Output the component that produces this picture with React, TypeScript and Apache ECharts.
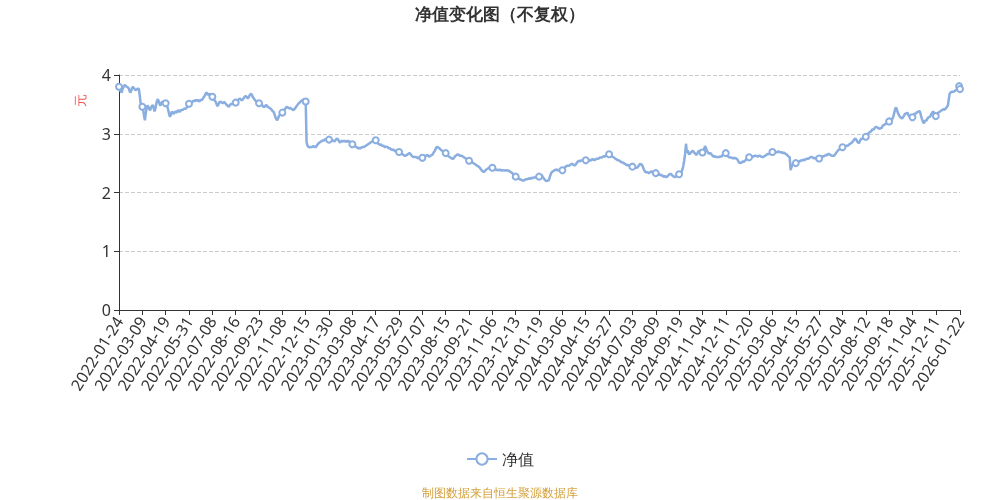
import React, { useEffect, useRef } from "react";
import * as echarts from "echarts";

// Chinese exchange closures (weekdays) in the period shown
const holidays: string[] = [
  "2022-01-31", "2022-02-01", "2022-02-02", "2022-02-03", "2022-02-04", "2022-04-04", "2022-04-05",
  "2022-05-02", "2022-05-03", "2022-05-04", "2022-06-03", "2022-09-12", "2022-10-03", "2022-10-04",
  "2022-10-05", "2022-10-06", "2022-10-07",
  "2023-01-02", "2023-01-23", "2023-01-24", "2023-01-25", "2023-01-26", "2023-01-27", "2023-04-05",
  "2023-05-01", "2023-05-02", "2023-05-03", "2023-06-22", "2023-06-23", "2023-09-29", "2023-10-02",
  "2023-10-03", "2023-10-04", "2023-10-05", "2023-10-06",
  "2024-01-01", "2024-02-09", "2024-02-12", "2024-02-13", "2024-02-14", "2024-02-15", "2024-02-16",
  "2024-04-04", "2024-04-05", "2024-05-01", "2024-05-02", "2024-05-03", "2024-06-10", "2024-09-16",
  "2024-09-17", "2024-10-01", "2024-10-02", "2024-10-03", "2024-10-04", "2024-10-07",
  "2025-01-01", "2025-01-28", "2025-01-29", "2025-01-30", "2025-01-31", "2025-02-03", "2025-02-04",
  "2025-04-04", "2025-05-01", "2025-05-02", "2025-05-05", "2025-06-02", "2025-10-01", "2025-10-02",
  "2025-10-03", "2025-10-06", "2025-10-07", "2025-10-08",
  "2026-01-01", "2026-01-02",
];
const firstDate = "2022-01-24";

// NAV values (元), one per published date
const navA: number[] = [
  3.80, 3.76, 3.72, 3.70, 3.75, 3.79, 3.82, 3.83, 3.81, 3.80, 3.79, 3.78, 3.74, 3.70, 3.73, 3.77, 3.80, 3.78, 3.76, 3.74, 3.75, 3.76, 3.77, 3.76, 3.65, 3.52, 3.50,
  3.46, 3.40, 3.30, 3.23, 3.35, 3.44, 3.48, 3.46, 3.42, 3.40, 3.44, 3.47, 3.49, 3.45, 3.38, 3.42, 3.50, 3.56, 3.59, 3.55, 3.50, 3.48, 3.52, 3.55, 3.54, 3.53, 3.52,
  3.52, 3.50, 3.46, 3.40, 3.33, 3.29, 3.32, 3.38, 3.36, 3.34, 3.35, 3.38, 3.37, 3.36, 3.40, 3.39, 3.37, 3.39, 3.41, 3.40, 3.41, 3.42, 3.43, 3.42, 3.44, 3.46, 3.48,
  3.51, 3.52, 3.54, 3.53, 3.55, 3.56, 3.55, 3.57, 3.57, 3.56, 3.58, 3.56, 3.55, 3.57, 3.58, 3.57, 3.60, 3.62, 3.64, 3.67, 3.70, 3.69, 3.66, 3.67, 3.68, 3.66, 3.64,
  3.63, 3.61, 3.58, 3.56, 3.54, 3.50, 3.47, 3.50, 3.53, 3.55, 3.54, 3.53, 3.52, 3.53, 3.54, 3.52, 3.50, 3.49, 3.47, 3.46, 3.48, 3.50, 3.51, 3.50, 3.52, 3.53, 3.52,
  3.53, 3.55, 3.56, 3.58, 3.59, 3.60, 3.58, 3.57, 3.58, 3.60, 3.62, 3.64, 3.64, 3.62, 3.60, 3.62, 3.65, 3.67, 3.68, 3.65, 3.62, 3.60, 3.58, 3.56, 3.55, 3.54, 3.53,
  3.52, 3.51, 3.50, 3.49, 3.48, 3.46, 3.45, 3.47, 3.49, 3.48, 3.46, 3.45, 3.44, 3.43, 3.42, 3.40, 3.38, 3.37, 3.33, 3.28, 3.25, 3.23, 3.26, 3.30, 3.32, 3.34, 3.35,
  3.36, 3.38, 3.40, 3.42, 3.44, 3.46, 3.45, 3.44, 3.43, 3.44, 3.43, 3.42, 3.41, 3.40, 3.42, 3.44, 3.46, 3.48, 3.50, 3.52, 3.53, 3.55, 3.56, 3.57, 3.58, 3.59, 3.57,
  3.55, 2.86, 2.80, 2.78, 2.77, 2.77, 2.78, 2.77, 2.78, 2.79, 2.78, 2.77, 2.78, 2.80, 2.82, 2.84, 2.85, 2.86, 2.87, 2.88, 2.89, 2.88, 2.90, 2.91, 2.90, 2.91, 2.90,
];
const navB: number[] = [
  2.90, 2.89, 2.90, 2.89, 2.88, 2.89, 2.87, 2.88, 2.90, 2.92, 2.91, 2.89, 2.86, 2.85, 2.87, 2.88, 2.87, 2.88, 2.87, 2.88, 2.86, 2.87, 2.88, 2.87, 2.86, 2.84, 2.83,
  2.82, 2.81, 2.80, 2.79, 2.78, 2.77, 2.76, 2.75, 2.76, 2.75, 2.76, 2.77, 2.78, 2.77, 2.78, 2.79, 2.80, 2.81, 2.82, 2.83, 2.84, 2.85, 2.86, 2.87, 2.88, 2.90, 2.91,
  2.89, 2.86, 2.84, 2.83, 2.82, 2.81, 2.82, 2.80, 2.79, 2.80, 2.78, 2.77, 2.78, 2.78, 2.77, 2.75, 2.76, 2.74, 2.73, 2.73, 2.72, 2.73, 2.71, 2.70, 2.71, 2.70, 2.69,
  2.69, 2.68, 2.67, 2.66, 2.65, 2.64, 2.63, 2.62, 2.63, 2.64, 2.65, 2.66, 2.67, 2.66, 2.64, 2.62, 2.61, 2.60, 2.61, 2.60, 2.61, 2.59, 2.58, 2.60, 2.59, 2.58, 2.59,
  2.59, 2.60, 2.62, 2.63, 2.62, 2.63, 2.64, 2.62, 2.61, 2.62, 2.63, 2.64, 2.65, 2.68, 2.70, 2.73, 2.76, 2.78, 2.77, 2.76, 2.75, 2.73, 2.72, 2.71, 2.70, 2.69, 2.68,
  2.67, 2.66, 2.64, 2.62, 2.61, 2.60, 2.59, 2.58, 2.57, 2.58, 2.60, 2.62, 2.63, 2.64, 2.65, 2.64, 2.63, 2.62, 2.63, 2.62, 2.61, 2.60, 2.59, 2.58, 2.57, 2.56, 2.55,
  2.54, 2.53, 2.52, 2.51, 2.51, 2.50, 2.49, 2.48, 2.47, 2.46, 2.45, 2.44, 2.43, 2.41, 2.39, 2.37, 2.36, 2.35, 2.36, 2.38, 2.39, 2.40, 2.41, 2.42, 2.43, 2.42, 2.43,
  2.42, 2.41, 2.40, 2.39, 2.39, 2.38, 2.39, 2.38, 2.38, 2.39, 2.38, 2.37, 2.38, 2.38, 2.37, 2.38, 2.38, 2.37, 2.38, 2.37, 2.36, 2.35, 2.34, 2.33, 2.31, 2.29, 2.28,
  2.27, 2.26, 2.25, 2.24, 2.23, 2.22, 2.22, 2.21, 2.21, 2.20, 2.21, 2.22, 2.23, 2.22, 2.23, 2.24, 2.23, 2.24, 2.25, 2.24, 2.25, 2.26, 2.25, 2.26, 2.27, 2.26, 2.26,
];
const navC: number[] = [
  2.27, 2.28, 2.29, 2.30, 2.27, 2.25, 2.23, 2.21, 2.20, 2.19, 2.21, 2.20, 2.24, 2.29, 2.33, 2.35, 2.36, 2.37, 2.38, 2.39, 2.38, 2.39, 2.38, 2.37, 2.38, 2.39, 2.38,
  2.38, 2.40, 2.42, 2.43, 2.44, 2.45, 2.46, 2.45, 2.46, 2.47, 2.48, 2.49, 2.48, 2.47, 2.46, 2.47, 2.49, 2.51, 2.53, 2.54, 2.53, 2.54, 2.55, 2.54, 2.55, 2.56, 2.55,
  2.55, 2.54, 2.55, 2.56, 2.55, 2.54, 2.55, 2.56, 2.57, 2.56, 2.55, 2.56, 2.57, 2.58, 2.57, 2.58, 2.59, 2.60, 2.59, 2.60, 2.61, 2.62, 2.61, 2.62, 2.63, 2.64, 2.65,
  2.65, 2.64, 2.63, 2.62, 2.61, 2.60, 2.59, 2.58, 2.57, 2.56, 2.55, 2.55, 2.54, 2.53, 2.52, 2.51, 2.51, 2.50, 2.49, 2.48, 2.47, 2.46, 2.47, 2.46, 2.45, 2.44, 2.43,
  2.44, 2.43, 2.42, 2.43, 2.42, 2.42, 2.43, 2.45, 2.47, 2.49, 2.48, 2.47, 2.44, 2.40, 2.37, 2.35, 2.34, 2.35, 2.34, 2.33, 2.34, 2.35, 2.36, 2.35, 2.34, 2.33, 2.32,
  2.33, 2.32, 2.31, 2.30, 2.31, 2.30, 2.29, 2.30, 2.28, 2.27, 2.28, 2.27, 2.26, 2.27, 2.28, 2.30, 2.31, 2.32, 2.31, 2.29, 2.28, 2.27, 2.26, 2.27, 2.28, 2.29, 2.30,
  2.31, 2.31, 2.30, 2.36, 2.40, 2.46, 2.55, 2.66, 2.83, 2.68, 2.72, 2.66, 2.65, 2.67, 2.69, 2.70, 2.71, 2.69, 2.67, 2.66, 2.64, 2.66, 2.69, 2.71, 2.70, 2.69, 2.68,
  2.68, 2.70, 2.74, 2.79, 2.76, 2.72, 2.69, 2.67, 2.66, 2.67, 2.66, 2.64, 2.62, 2.61, 2.62, 2.61, 2.60, 2.61, 2.60, 2.61, 2.60, 2.62, 2.61, 2.63, 2.65, 2.66, 2.67,
  2.67, 2.65, 2.63, 2.61, 2.60, 2.59, 2.60, 2.59, 2.58, 2.59, 2.58, 2.59, 2.58, 2.57, 2.55, 2.52, 2.50, 2.51, 2.50, 2.52, 2.53, 2.52, 2.54, 2.55, 2.57, 2.58, 2.59,
];
const navD: number[] = [
  2.60, 2.61, 2.62, 2.61, 2.62, 2.61, 2.62, 2.63, 2.62, 2.62, 2.61, 2.62, 2.63, 2.62, 2.61, 2.61, 2.60, 2.61, 2.62, 2.63, 2.64, 2.65, 2.66, 2.65, 2.66, 2.67, 2.68,
  2.69, 2.70, 2.69, 2.70, 2.69, 2.68, 2.69, 2.70, 2.69, 2.68, 2.69, 2.68, 2.67, 2.68, 2.67, 2.66, 2.65, 2.64, 2.62, 2.61, 2.60, 2.38, 2.43, 2.47, 2.49, 2.50, 2.49,
  2.50, 2.51, 2.52, 2.53, 2.52, 2.54, 2.55, 2.54, 2.55, 2.56, 2.55, 2.56, 2.57, 2.58, 2.57, 2.58, 2.59, 2.60, 2.61, 2.60, 2.59, 2.58, 2.59, 2.58, 2.57, 2.58, 2.57,
  2.58, 2.59, 2.60, 2.61, 2.62, 2.61, 2.62, 2.63, 2.64, 2.63, 2.65, 2.66, 2.65, 2.64, 2.63, 2.62, 2.63, 2.62, 2.64, 2.66, 2.68, 2.70, 2.72, 2.73, 2.74, 2.75, 2.76,
  2.77, 2.78, 2.79, 2.78, 2.79, 2.80, 2.79, 2.81, 2.82, 2.83, 2.84, 2.85, 2.87, 2.89, 2.91, 2.92, 2.90, 2.87, 2.85, 2.84, 2.87, 2.90, 2.92, 2.91, 2.93, 2.94, 2.95,
  2.95, 2.97, 2.99, 3.01, 3.02, 3.03, 3.04, 3.06, 3.08, 3.07, 3.09, 3.11, 3.12, 3.11, 3.10, 3.09, 3.08, 3.10, 3.09, 3.12, 3.15, 3.14, 3.16, 3.17, 3.18, 3.19, 3.20,
  3.21, 3.22, 3.23, 3.24, 3.26, 3.30, 3.36, 3.42, 3.45, 3.41, 3.36, 3.33, 3.30, 3.28, 3.27, 3.26, 3.28, 3.30, 3.33, 3.35, 3.34, 3.36, 3.33, 3.30, 3.29, 3.31, 3.30,
  3.28, 3.30, 3.33, 3.35, 3.34, 3.36, 3.38, 3.37, 3.39, 3.36, 3.30, 3.25, 3.21, 3.18, 3.20, 3.23, 3.22, 3.25, 3.27, 3.29, 3.28, 3.31, 3.34, 3.36, 3.38, 3.35, 3.32,
  3.30, 3.32, 3.34, 3.36, 3.37, 3.38, 3.39, 3.40, 3.41, 3.42, 3.41, 3.42, 3.44, 3.46, 3.48, 3.58, 3.68, 3.70, 3.71, 3.72, 3.71, 3.72, 3.73, 3.74, 3.75, 3.77, 3.79,
  3.81, 3.76,
];

const navValues: number[] = [...navA, ...navB, ...navC, ...navD];

function pad(n: number): string {
  return n < 10 ? "0" + n : String(n);
}

// Published dates: exchange trading days plus quarter-end dates
function buildDates(count: number): string[] {
  const closed = new Set(holidays);
  const [y, m, d] = firstDate.split("-").map(Number);
  let t = Date.UTC(y, m - 1, d);
  const out: string[] = [];
  while (out.length < count) {
    const dt = new Date(t);
    const yy = dt.getUTCFullYear();
    const mm = dt.getUTCMonth() + 1;
    const dd = dt.getUTCDate();
    const s = `${yy}-${pad(mm)}-${pad(dd)}`;
    const dow = dt.getUTCDay();
    const next = new Date(t + 86400000);
    const quarterEnd = mm % 3 === 0 && next.getUTCMonth() + 1 !== mm;
    if ((dow >= 1 && dow <= 5 && !closed.has(s)) || quarterEnd) out.push(s);
    t += 86400000;
  }
  return out;
}

const lineColor = "#8aaee0";

export default function App() {
  const ref = useRef<HTMLDivElement>(null);

  useEffect(() => {
    if (!ref.current) return;
    const chart = echarts.init(ref.current, null, { renderer: "svg" });
    const dates = buildDates(navValues.length);
    chart.setOption({
      animation: false,
      title: {
        text: "净值变化图（不复权）",
        left: "center",
        top: 1,
        textStyle: { fontSize: 17, fontWeight: "bold", color: "#333" },
      },
      grid: { left: 119, right: 40, top: 75, bottom: 190, containLabel: false },
      legend: {
        data: ["净值"],
        left: "center",
        top: 446,
        itemWidth: 30,
        itemHeight: 14,
        textStyle: { fontSize: 16, color: "#333" },
      },
      xAxis: {
        type: "category",
        data: dates,
        boundaryGap: false,
        axisLine: { lineStyle: { color: "#333" } },
        axisTick: { lineStyle: { color: "#333" } },
        axisLabel: {
          interval: 26,
          rotate: 58,
          fontSize: 16,
          fontFamily: "Noto Sans",
          color: "#333",
          showMaxLabel: true,
        },
      },
      yAxis: {
        type: "value",
        min: 0,
        max: 4,
        interval: 1,
        axisLine: { show: true, lineStyle: { color: "#333" } },
        axisTick: { show: true, lineStyle: { color: "#333" } },
        axisLabel: { fontSize: 16, color: "#333", fontFamily: "Noto Sans" },
        splitLine: { lineStyle: { type: "dashed", color: "#ccc" } },
      },
      series: [
        {
          name: "净值",
          type: "line",
          data: navValues,
          symbol: "emptyCircle",
          symbolSize: 6,
          lineStyle: { width: 2.5, color: lineColor },
          itemStyle: { color: lineColor, borderWidth: 1.5 },
        },
      ],
      graphic: [
        {
          type: "text",
          x: 80,
          y: 100,
          rotation: Math.PI / 2,
          style: {
            text: "元",
            fontSize: 13,
            fill: "#f05050",
            textAlign: "center",
            textVerticalAlign: "middle",
          },
        },
        {
          type: "text",
          left: "center",
          top: 487,
          style: {
            text: "制图数据来自恒生聚源数据库",
            fontSize: 12,
            fill: "#d4a03c",
          },
        },
      ],
    });
    return () => chart.dispose();
  }, []);

  return (
    <div
      ref={ref}
      style={{ position: "fixed", left: 0, top: 0, width: 1000, height: 500 }}
    />
  );
}
